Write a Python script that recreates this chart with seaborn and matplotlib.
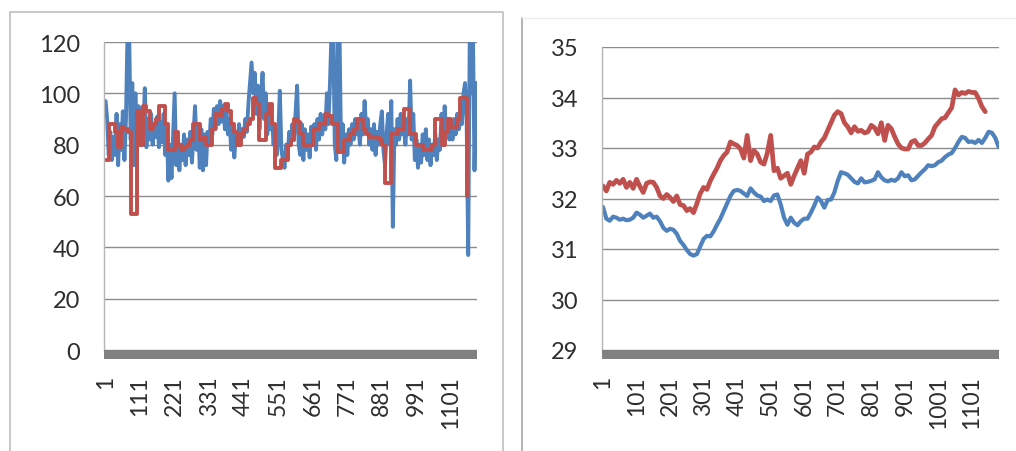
import numpy as np
import pandas as pd
import matplotlib
matplotlib.use("Agg")
import matplotlib.pyplot as plt
from matplotlib.patches import Rectangle
from matplotlib.lines import Line2D
import seaborn as sns

# ---------------- data ----------------
# Left chart: blue series (sampled every 5 points), red series (every 10 points, step-like)
left_blue_x = np.arange(1, 1182, 5)
left_blue = [
    97, 90, 76, 85, 74, 83, 76, 92, 72, 88, 78, 93, 74, 90, 125, 125, 82, 104, 72, 100,
    78, 95, 80, 90, 84, 102, 79, 90, 82, 92, 80, 88, 83, 91, 79, 89, 81, 92, 76, 86,
    66, 80, 67, 84, 100, 72, 82, 70, 80, 74, 84, 72, 82, 76, 85, 73, 84, 95, 78, 88,
    71, 86, 70, 84, 72, 85, 80, 90, 84, 94, 86, 95, 88, 97, 89, 95, 86, 93, 84, 90,
    78, 86, 75, 84, 80, 88, 82, 86, 83, 90, 85, 96, 104, 112, 100, 108, 92, 103, 86, 98,
    108, 90, 100, 84, 95, 86, 90, 80, 86, 76, 84, 101, 78, 74, 71, 80, 76, 85, 80, 88,
    82, 92, 103, 80, 76, 88, 74, 86, 78, 84, 75, 87, 80, 88, 78, 90, 82, 92, 84, 90,
    86, 100, 88, 105, 125, 125, 80, 74, 125, 125, 78, 88, 73, 84, 76, 86, 80, 88, 82, 90,
    84, 88, 80, 92, 84, 97, 86, 90, 80, 86, 78, 88, 76, 85, 80, 88, 93, 78, 72, 84,
    92, 80, 97, 48, 86, 80, 90, 82, 92, 84, 88, 80, 90, 84, 105, 82, 92, 74, 82, 71,
    80, 73, 84, 76, 86, 74, 82, 72, 80, 76, 84, 74, 82, 78, 92, 80, 95, 84, 90, 82,
    88, 82, 90, 84, 92, 86, 90, 88, 100, 104, 90, 37, 125, 100, 125, 70, 104,
]
left_red_x = np.arange(1, 1152, 10)
left_red = [
    74, 88, 88, 85, 79, 87, 86, 85, 53, 53,
    93, 80, 95, 93, 86, 88, 90, 95, 95, 88,
    78, 78, 85, 80, 78, 79, 80, 82, 88, 88,
    82, 83, 80, 80, 86, 92, 91, 94, 96, 93,
    88, 85, 80, 84, 86, 88, 90, 98, 96, 82,
    82, 92, 96, 88, 71, 71, 74, 74, 80, 82,
    90, 89, 84, 80, 80, 80, 86, 86, 88, 88,
    92, 91, 88, 88, 77, 77, 82, 82, 84, 86,
    90, 90, 86, 84, 83, 83, 83, 82, 80, 65,
    65, 84, 84, 86, 86, 94, 94, 84, 84, 80,
    80, 78, 78, 78, 80, 90, 90, 80, 85, 90,
    87, 87, 90, 98, 98, 60,
]
left_xticks = [1, 111, 221, 331, 441, 551, 661, 771, 881, 991, 1101]
left_yticks = [0, 20, 40, 60, 80, 100, 120]

# Right chart: both series sampled every 10 points
right_blue_x = np.arange(1, 1182, 10)
right_blue = [
    31.83, 31.6, 31.56, 31.64, 31.62, 31.58, 31.6, 31.57, 31.58, 31.62,
    31.72, 31.68, 31.62, 31.66, 31.7, 31.62, 31.64, 31.55, 31.42, 31.36,
    31.4, 31.38, 31.3, 31.16, 31.08, 30.98, 30.9, 30.87, 30.9, 31.05,
    31.2, 31.26, 31.25, 31.35, 31.48, 31.6, 31.75, 31.9, 32.05, 32.15,
    32.17, 32.15, 32.1, 32.05, 32.2, 32.12, 32.06, 32.04, 31.95, 31.98,
    31.95, 32.06, 32.08, 31.88, 31.62, 31.48, 31.62, 31.52, 31.47, 31.55,
    31.6, 31.6, 31.72, 31.86, 32.02, 31.95, 31.82, 31.97, 31.98, 32.12,
    32.35, 32.52, 32.5, 32.47, 32.4, 32.33, 32.3, 32.4, 32.32, 32.33,
    32.35, 32.38, 32.52, 32.42, 32.36, 32.34, 32.37, 32.35, 32.4, 32.52,
    32.44, 32.46, 32.36, 32.38, 32.45, 32.52, 32.58, 32.66, 32.64, 32.66,
    32.72, 32.75, 32.82, 32.87, 32.9, 33.0, 33.12, 33.22, 33.2, 33.12,
    33.13, 33.1, 33.16, 33.1, 33.2, 33.32, 33.3, 33.2, 33.02,
]
right_red_x = np.arange(1, 1142, 10)
right_red = [
    32.25, 32.15, 32.32, 32.28, 32.36, 32.3, 32.38, 32.22, 32.32, 32.2,
    32.38, 32.24, 32.12, 32.3, 32.33, 32.32, 32.22, 32.05, 32.0, 32.08,
    32.02, 31.94, 32.05, 31.88, 31.86, 31.76, 31.8, 31.72, 31.9, 32.1,
    32.22, 32.18, 32.35, 32.48, 32.6, 32.75, 32.85, 32.92, 33.12, 33.08,
    33.05, 32.98, 32.8, 33.25, 32.75, 32.95, 32.88, 32.72, 32.68, 32.9,
    33.25, 32.55, 32.6, 32.4, 32.45, 32.5, 32.28, 32.45, 32.6, 32.75,
    32.5, 32.88, 32.92, 33.02, 33.0, 33.12, 33.2, 33.35, 33.5, 33.65,
    33.72, 33.68, 33.5, 33.42, 33.3, 33.42, 33.33, 33.35, 33.3, 33.32,
    33.45, 33.4, 33.28, 33.5, 33.15, 33.45, 33.38, 33.22, 33.08, 33.0,
    32.98, 32.98, 33.12, 33.15, 33.05, 33.05, 33.1, 33.18, 33.25, 33.42,
    33.5, 33.58, 33.6, 33.7, 33.8, 34.15, 34.05, 34.1, 34.08, 34.12,
    34.1, 34.1, 33.98, 33.82, 33.72,
]
right_xticks = [1, 101, 201, 301, 401, 501, 601, 701, 801, 901, 1001, 1101]
right_yticks = [29, 30, 31, 32, 33, 34, 35]

BLUE = "#4F81BD"
RED = "#C0504D"
GRID = "#8c8c8c"
TXT = "#2e2e2e"

# ---------------- figure ----------------
sns.set_style("white")
plt.rcParams["font.family"] = ["Lato", "DejaVu Sans"]

W, H = 1016, 452
fig = plt.figure(figsize=(W / 100, H / 100), dpi=100)

axL = fig.add_axes([104 / W, 1 - 351 / H, 373 / W, 308 / H])
axR = fig.add_axes([602 / W, 1 - 351 / H, 397 / W, 303 / H])

dfLb = pd.DataFrame({"x": left_blue_x, "y": left_blue})
dfLr = pd.DataFrame({"x": left_red_x, "y": left_red})
dfRb = pd.DataFrame({"x": right_blue_x, "y": right_blue})
dfRr = pd.DataFrame({"x": right_red_x, "y": right_red})

sns.lineplot(data=dfLb, x="x", y="y", ax=axL, color=BLUE, linewidth=2.8, estimator=None)
sns.lineplot(data=dfLr, x="x", y="y", ax=axL, color=RED, linewidth=2.8, estimator=None,
             drawstyle="steps-post")
sns.lineplot(data=dfRb, x="x", y="y", ax=axR, color=BLUE, linewidth=3.0, estimator=None)
sns.lineplot(data=dfRr, x="x", y="y", ax=axR, color=RED, linewidth=3.4, estimator=None)


def style(ax, xticks, yticks, xlim, ylim, hpx):
    ax.set_xlim(*xlim)
    ax.set_ylim(*ylim)
    ax.set_xticks(xticks)
    ax.set_xticklabels([str(t) for t in xticks], rotation=90)
    ax.set_yticks(yticks)
    ax.set_yticklabels([str(t) for t in yticks])
    ax.set_axisbelow(True)
    ax.yaxis.grid(True, color=GRID, linewidth=1.0)
    ax.xaxis.grid(False)
    for s in ["top", "right", "bottom"]:
        ax.spines[s].set_visible(False)
    ax.spines["left"].set_color("#b5b5b5")
    ax.spines["left"].set_linewidth(1.0)
    ax.tick_params(axis="y", length=5, width=1, color=GRID, pad=12,
                   labelsize=17, labelcolor=TXT)
    ax.tick_params(axis="x", length=0, pad=18, labelsize=16.5, labelcolor=TXT)
    ax.set_xlabel("")
    ax.set_ylabel("")
    ax.add_patch(Rectangle((0, -9 / hpx), 1, 9 / hpx, transform=ax.transAxes,
                           facecolor="#808080", edgecolor="none", clip_on=False, zorder=3))


style(axL, left_xticks, left_yticks, (-4, 1184), (0, 120), 308)
style(axR, right_xticks, right_yticks, (-2, 1182), (29, 35), 303)

# panel borders
fig.add_artist(Rectangle((10 / W, -0.01), 493 / W, 1.01 - 13 / H, transform=fig.transFigure,
                         fill=False, edgecolor="#bfbfbf", linewidth=1.2))
fig.add_artist(Line2D([522 / W, 522 / W], [0, 1 - 19 / H], transform=fig.transFigure,
                      color="#a6a6a6", linewidth=1.2))
fig.add_artist(Line2D([522 / W, 1], [1 - 19 / H, 1 - 19 / H], transform=fig.transFigure,
                      color="#ececec", linewidth=1.0))

fig.savefig("out.png", dpi=100)
